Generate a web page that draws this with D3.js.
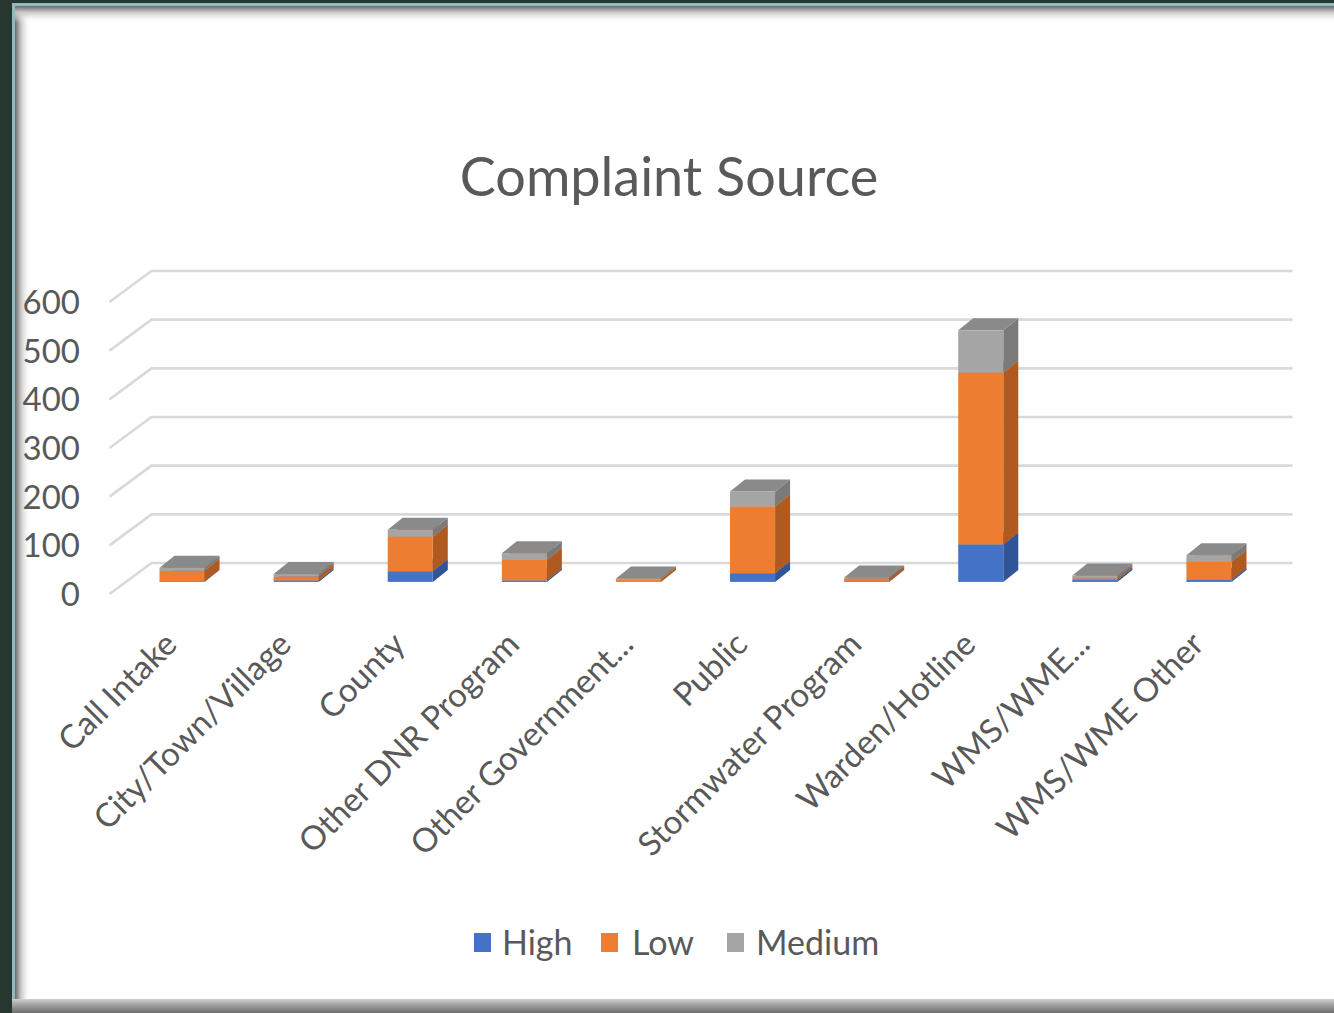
<!DOCTYPE html>
<html>
<head>
<meta charset="utf-8">
<script src="https://cdn.jsdelivr.net/npm/d3@7"></script>
<style>
  html, body { margin: 0; padding: 0; background: #283630; }
  svg { display: block; }
  text { font-family: Lato, "Open Sans", sans-serif; fill: #595959; }
</style>
</head>
<body>
<svg id="chart" width="1334" height="1013"></svg>
<script>
// Complaint counts by source, split by priority
const categories = ["Call Intake", "City/Town/Village", "County", "Other DNR Program",
  "Other Government...", "Public", "Stormwater Program", "Warden/Hotline",
  "WMS/WME...", "WMS/WME Other"];
const seriesNames = ["High", "Low", "Medium"];
const high   = [1, 3, 22, 3, 0, 18, 1, 77, 4, 4];
const low    = [22, 8, 71, 42, 5, 137, 6, 353, 3, 37];
const medium = [6, 5, 14, 14, 2, 31, 2, 87, 6, 14];
const yTicks = [0, 100, 200, 300, 400, 500, 600];

const colors = {
  High:   { front: "#4472C4", side: "#2F5597", top: "#3A62A8" },
  Low:    { front: "#ED7D31", side: "#AE5A21", top: "#C9692A" },
  Medium: { front: "#A5A5A5", side: "#7A7A7A", top: "#8A8A8A" }
};

const svg = d3.select("#chart");
const W = 1334, H = 1013;

// ---- window frame ----
const defs = svg.append("defs");
const gl = defs.append("linearGradient").attr("id", "shL").attr("x1", 0).attr("x2", 1).attr("y1", 0).attr("y2", 0);
gl.append("stop").attr("offset", 0).attr("stop-color", "#6a6a6a");
gl.append("stop").attr("offset", 0.35).attr("stop-color", "#c4c4c4");
gl.append("stop").attr("offset", 1).attr("stop-color", "#ffffff").attr("stop-opacity", 0);
const gt = defs.append("linearGradient").attr("id", "shT").attr("x1", 0).attr("x2", 0).attr("y1", 0).attr("y2", 1);
gt.append("stop").attr("offset", 0).attr("stop-color", "#6a6a6a");
gt.append("stop").attr("offset", 0.35).attr("stop-color", "#c4c4c4");
gt.append("stop").attr("offset", 1).attr("stop-color", "#ffffff").attr("stop-opacity", 0);
const gb = defs.append("linearGradient").attr("id", "shB").attr("x1", 0).attr("x2", 0).attr("y1", 0).attr("y2", 1);
gb.append("stop").attr("offset", 0).attr("stop-color", "#d0d0d0");
gb.append("stop").attr("offset", 0.5).attr("stop-color", "#9a9a9a");
gb.append("stop").attr("offset", 1).attr("stop-color", "#6e6e6e");

svg.append("rect").attr("width", W).attr("height", H).attr("fill", "#283630");
svg.append("rect").attr("x", 12).attr("y", 3).attr("width", W - 12).attr("height", 999).attr("fill", "#8fbcbc");
svg.append("rect").attr("x", 15).attr("y", 6).attr("width", W - 15).attr("height", 994).attr("fill", "#ffffff");
svg.append("rect").attr("x", 15).attr("y", 6).attr("width", 16).attr("height", 994).attr("fill", "url(#shL)");
svg.append("rect").attr("x", 15).attr("y", 6).attr("width", W - 15).attr("height", 17).attr("fill", "url(#shT)");
svg.append("rect").attr("x", 12).attr("y", 999).attr("width", W - 12).attr("height", 14).attr("fill", "url(#shB)");

// ---- 3D geometry ----
const frontY0 = 594;              // front edge of floor at value 0
const floorX0 = 109.5, floorX1 = 1250.5;
const depth = { dx: 42, dy: -31 };   // full floor depth
const barOff = { dx: 15.5, dy: -12.1 }; // front face of columns inside the floor
const barDepth = { dx: 15, dy: -12 };

const y = d3.scaleLinear().domain([0, 600]).range([0, 292]);
const x = d3.scaleBand().domain(categories).range([floorX0, floorX1])
  .paddingInner(0.605).paddingOuter(0.3025);

// gridlines: side wall diagonal + back wall horizontal
const grid = svg.append("g").attr("stroke", "#d9d9d9").attr("stroke-width", 2.6).attr("fill", "none");
yTicks.forEach(v => {
  const yf = frontY0 - y(v);
  grid.append("path").attr("d",
    `M${floorX0},${yf} L${floorX0 + depth.dx},${yf + depth.dy} L${floorX1 + depth.dx},${yf + depth.dy}`);
});

// y axis labels
svg.append("g").selectAll("text").data(yTicks).join("text")
  .attr("x", 80).attr("y", d => frontY0 - y(d))
  .attr("dy", "0.36em").attr("text-anchor", "end")
  .attr("font-size", 33).text(d => d);

// stacked columns
const rows = categories.map((c, i) => ({ cat: c, High: high[i], Low: low[i], Medium: medium[i] }));
const stacked = d3.stack().keys(seriesNames)(rows);

const bars = svg.append("g");
categories.forEach((c, i) => {
  const x0 = x(c) + barOff.dx, w = x.bandwidth();
  const base = frontY0 + barOff.dy;
  stacked.forEach(layer => {
    const d = layer[i];
    if (d[1] - d[0] <= 0) return;
    const yb = base - y(d[0]), yt = base - y(d[1]);
    const col = colors[layer.key];
    const dx = barDepth.dx, dy = barDepth.dy;
    bars.append("path").attr("fill", col.side)
      .attr("d", `M${x0 + w},${yb} L${x0 + w + dx},${yb + dy} L${x0 + w + dx},${yt + dy} L${x0 + w},${yt} Z`);
    bars.append("path").attr("fill", col.top)
      .attr("d", `M${x0},${yt} L${x0 + w},${yt} L${x0 + w + dx},${yt + dy} L${x0 + dx},${yt + dy} Z`);
    bars.append("rect").attr("fill", col.front)
      .attr("x", x0).attr("y", yt).attr("width", w).attr("height", yb - yt);
  });
});

// category labels, rotated
svg.append("g").selectAll("text").data(categories).join("text")
  .attr("transform", d => `translate(${x(d) + x.bandwidth() / 2 - 4},${630}) rotate(-45)`)
  .attr("text-anchor", "end").attr("dy", "0.7em")
  .attr("font-size", 33).text(d => d);

// title
svg.append("text").attr("x", 669).attr("y", 196).attr("text-anchor", "middle")
  .attr("font-size", 54).text("Complaint Source");

// legend
const legendPos = [{ k: "High", sx: 474, tx: 502 }, { k: "Low", sx: 601, tx: 632 }, { k: "Medium", sx: 727, tx: 756 }];
const lg = svg.append("g");
legendPos.forEach(p => {
  lg.append("rect").attr("x", p.sx).attr("y", 933).attr("width", 17).attr("height", 19).attr("fill", colors[p.k].front);
  lg.append("text").attr("x", p.tx).attr("y", 955).attr("font-size", 34).text(p.k);
});
</script>
</body>
</html>
